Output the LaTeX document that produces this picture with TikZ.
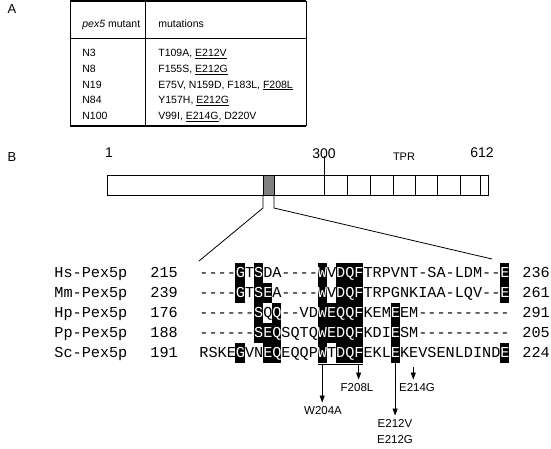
\documentclass[tikz,border=0pt]{standalone}
\usepackage{fontspec}
\setmainfont{Liberation Sans}
\setmonofont{Liberation Mono}
\usetikzlibrary{arrows.meta}

% identical residue, white on the black box
\newcommand{\idres}[1]{\textcolor{white}{#1}}

\tikzset{
  panel/.style={font=\fontsize{13}{15}\selectfont, inner sep=0pt},
  tabtext/.style={font=\fontsize{10.5}{12}\selectfont, inner sep=0pt, anchor=base west},
  barnum/.style={font=\fontsize{14}{16}\selectfont, inner sep=0pt},
  seqtext/.style={font=\ttfamily\fontsize{15.2}{18}\selectfont, inner sep=0pt, anchor=base west},
  mutlabel/.style={font=\fontsize{11.5}{16}\selectfont, inner sep=4pt, align=center},
  mutarrow/.style={-{Triangle[length=7pt,width=5pt]}, line width=0.8pt},
}

\begin{document}
\begin{tikzpicture}[x=1pt,y=-1pt,line width=0.8pt]
\useasboundingbox (0,0) rectangle (551,448);

%%%%%PANEL A: TABLE%%%%%%%%%
\node[panel] (labA) at (12,9) {A};
\draw[line width=1.4pt] (70,1) -- (306,1);
\draw (70,38) -- (306,38);
\draw[line width=1.4pt] (70,126) -- (306,126);
\draw (70,1) -- (70,126);
\draw (306,1) -- (306,126);
\draw (145,1) -- (145,126);
\node[tabtext] (hdmut) at (82,27.5) {\textit{pex5} mutant};
\node[tabtext] (hdlist) at (158,27.5) {mutations};
\foreach \i/\mut/\list in {0/N3/{T109A, \underline{E212V}},
                           1/N8/{F155S, \underline{E212G}},
                           2/N19/{E75V, N159D, F183L, \underline{F208L}},
                           3/N84/{Y157H, \underline{E212G}},
                           4/N100/{V99I, \underline{E214G}, D220V}}{
  \node[tabtext] (mut\i) at (82,{56.5+15.8*\i}) {\mut};
  \node[tabtext] (list\i) at (158,{56.5+15.8*\i}) {\list};
}

%%%%%PANEL B: PEX5 BAR%%%%%%%%%
\node[panel] (labB) at (12,157) {B};
\node[barnum] (n1) at (109,153) {1};
\node[barnum] (n300) at (324,154) {300};
\node[barnum] (n612) at (482,153) {612};
\node[font=\fontsize{11}{13}\selectfont, inner sep=0pt] (tpr) at (404,157) {TPR};
\fill[black!50] (263,175) rectangle (274,195);
\draw (107,175) rectangle (488,195);
\draw (263,175) -- (263,195);
\draw (274,175) -- (274,195);
\draw (324,156) -- (324,195);
\foreach \x in {347,370,393,415,437,460,480}
  \draw (\x,175) -- (\x,195);

%%%%%ZOOM LINES%%%%%%%
\coordinate (boxL) at (263,195);
\coordinate (boxR) at (274,195);
\coordinate (alnL) at (199,261);
\coordinate (alnR) at (492,259);
\draw (boxL) -- ++(0,13) -- (alnL);
\draw (boxR) -- ++(0,13) -- (alnR);

%%%%%ALIGNMENT%%%%%%%
% black boxes (column/row)
\foreach \c/\r in {5/1,7/1,14/1,16/1,17/1,18/1,34/1,
                   5/2,7/2,8/2,14/2,16/2,17/2,18/2,34/2,
                   7/3,9/3,14/3,15/3,16/3,17/3,18/3,22/3,
                   7/4,8/4,9/4,14/4,15/4,16/4,17/4,18/4,22/4,
                   5/5,8/5,9/5,14/5,16/5,17/5,18/5,22/5,34/5}
  \fill[black] ({199+(\c-1)*9.12},{243+20*\r}) rectangle ++(9.12,20);
\foreach \r/\nm/\st/\sq/\en in {
    1/Hs-Pex5p/215/{----\idres{G}T\idres{S}DA----\idres{W}V\idres{DQF}TRPVNT-SA-LDM--\idres{E}}/236,
    2/Mm-Pex5p/239/{----\idres{G}T\idres{SE}A----\idres{W}V\idres{DQF}TRPGNKIAA-LQV--\idres{E}}/261,
    3/Hp-Pex5p/176/{------\idres{S}Q\idres{Q}--VD\idres{WEQQF}KEM\idres{E}EM----------}/291,
    4/Pp-Pex5p/188/{------\idres{SEQ}SQTQ\idres{WEDQF}KDI\idres{E}SM----------}/205,
    5/Sc-Pex5p/191/{RSKE\idres{G}VN\idres{EQ}EQQP\idres{W}T\idres{DQF}EKL\idres{E}KEVSENLDIND\idres{E}}/224}{
  \node[seqtext] (name\r) at (54,{257.5+20*\r}) {\nm};
  \node[seqtext] (start\r) at (150,{257.5+20*\r}) {\st};
  \node[seqtext] (seq\r) at (199,{257.5+20*\r}) {\sq};
  \node[seqtext] (end\r) at (522,{257.5+20*\r}) {\en};
}

%%%%%MUTATIONS%%%%%%%
\coordinate (ulL) at (317.6,364);
\coordinate (ulR) at (363.2,364);
\draw (ulL) -- (ulR);
\coordinate (w204) at (322.2,364);
\coordinate (f208) at (358.6,364);
\coordinate (e212) at (395.1,363);
\coordinate (e214) at (413.3,367);
\node[mutlabel] (w204a) at (323,411) {W204A};
\node[mutlabel] (f208l) at (357,388) {F208L};
\node[mutlabel] (e214g) at (417,388) {E214G};
\node[mutlabel] (e212vg) at (395,432) {E212V\\E212G};
\draw[mutarrow] (w204) -- (w204 |- w204a.north);
\draw[mutarrow] (f208) -- (f208 |- f208l.north);
\draw[mutarrow] (e212) -- (e212 |- e212vg.north);
\draw[mutarrow] (e214) -- (e214 |- e214g.north);

\end{tikzpicture}
\end{document}
